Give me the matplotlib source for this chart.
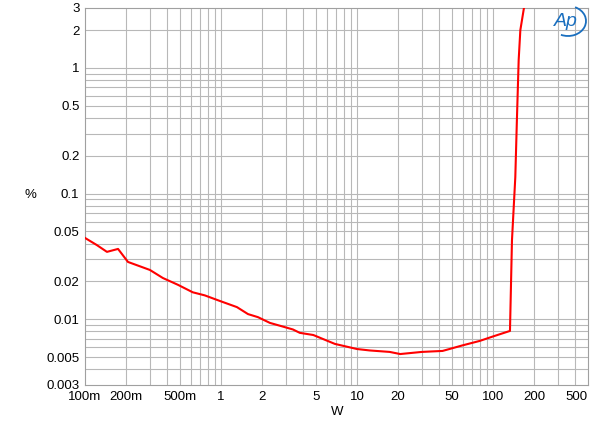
import matplotlib
matplotlib.use("Agg")
import matplotlib.pyplot as plt
from matplotlib.patches import Arc
import numpy as np

# Data
power_w = [0.1, 0.122, 0.145, 0.175, 0.207, 0.30, 0.374, 0.483, 0.62, 0.76, 0.98,
           1.31, 1.58, 1.87, 2.29, 2.8, 3.38, 3.8, 4.77, 6.88, 10.0, 12.4, 17.4,
           20.8, 30.0, 42.6, 59.7, 80.0, 100.0, 133.4, 138.0, 146.0, 150.0,
           154.6, 159.0, 169.0, 173.0]
thd_pct = [0.0444, 0.039, 0.0344, 0.0363, 0.0286, 0.0247, 0.0213, 0.0188, 0.0164,
           0.0155, 0.0140, 0.0125, 0.0110, 0.0104, 0.00936, 0.0088, 0.0083, 0.0078,
           0.0075, 0.00637, 0.0058, 0.00565, 0.0055, 0.00529, 0.0055, 0.0056,
           0.0062, 0.00673, 0.0073, 0.00808, 0.0425, 0.135, 0.386, 1.16, 2.0,
           3.0, 3.6]

x_ticks = [0.1, 0.2, 0.5, 1, 2, 5, 10, 20, 50, 100, 200, 500]
x_labels = ["100m", "200m", "500m", "1", "2", "5", "10", "20", "50", "100", "200", "500"]
y_ticks = [0.003, 0.005, 0.01, 0.02, 0.05, 0.1, 0.2, 0.5, 1, 2, 3]
y_labels = ["0.003", "0.005", "0.01", "0.02", "0.05", "0.1", "0.2", "0.5", "1", "2", "3"]

plt.rcParams['font.family'] = ['Liberation Sans', 'DejaVu Sans']

fig = plt.figure(figsize=(6.0, 4.26), dpi=100)
ax = fig.add_axes([85/600, 1-385/426, (588-85)/600, (385-8)/426])
ax.set_xscale('log')
ax.set_yscale('log')
ax.set_xlim(0.1, 500)
ax.set_ylim(0.003, 3)

# grid lines at every 1..9 per decade
grid_c = '#b8b8b8'
for dec in [0.1, 1, 10, 100]:
    for m in range(1, 10):
        v = dec * m
        if 0.1 < v < 500:
            ax.axvline(v, color=grid_c, lw=0.8, zorder=1)
for dec in [0.001, 0.01, 0.1, 1]:
    for m in range(1, 10):
        v = dec * m
        if 0.003 < v < 3:
            ax.axhline(v, color=grid_c, lw=0.8, zorder=1)

ax.plot(power_w, thd_pct, color='#ff0000', lw=1.5, zorder=3, clip_on=True)

ax.set_xticks(x_ticks)
ax.set_xticklabels(x_labels)
ax.set_yticks(y_ticks)
ax.set_yticklabels(y_labels)
ax.minorticks_off()
ax.tick_params(length=0, labelsize=9.5, pad=4, colors='black')
ax.get_xticklabels()[-1].set_horizontalalignment('right')
for s in ax.spines.values():
    s.set_color('#a0a0a0')
    s.set_linewidth(0.8)

fig.text(337/600, 1-412/426, "W", ha='center', va='center', fontsize=9.5)
fig.text(30/600, 1-195/426, "%", ha='center', va='center', fontsize=9.5)

# AP logo
logo_c = '#1a6fbf'
fig.text(566/600, 1-21/426, "Ap", ha='center', va='center', fontsize=14,
         style='italic', color=logo_c)
arc = Arc((568/600, 1-21/426), 36/600, 30/426, theta1=-110, theta2=70,
          transform=fig.transFigure, color=logo_c, lw=1.3)
fig.add_artist(arc)

fig.savefig("out.png", dpi=100)
